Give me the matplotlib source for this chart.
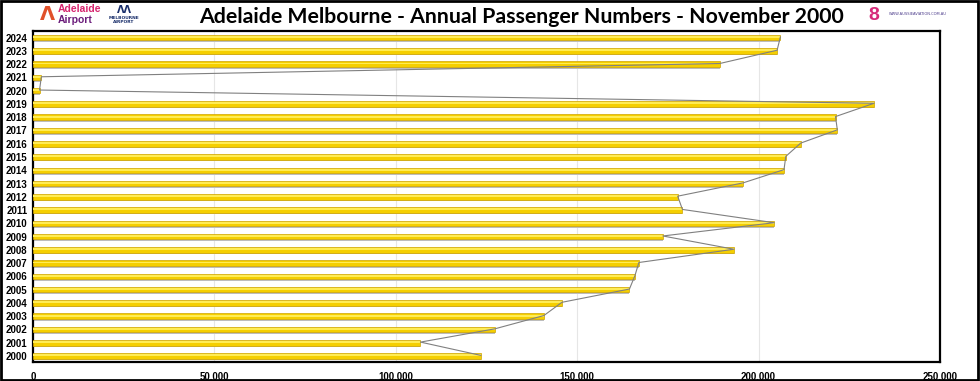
import matplotlib
matplotlib.use("Agg")
import matplotlib.pyplot as plt
from matplotlib.patches import Rectangle
from matplotlib.ticker import FuncFormatter, MultipleLocator

years = [2000, 2001, 2002, 2003, 2004, 2005, 2006, 2007, 2008, 2009, 2010, 2011,
         2012, 2013, 2014, 2015, 2016, 2017, 2018, 2019, 2020, 2021, 2022, 2023, 2024]
passengers = [123400, 106800, 127300, 140800, 145800, 164400, 165900, 167000, 193200,
              173600, 204300, 179000, 177700, 195700, 207000, 207500, 211600, 221700,
              221200, 231800, 1800, 2300, 189300, 205100, 206000]
title = "Adelaide Melbourne - Annual Passenger Numbers - November 2000"

fig = plt.figure(figsize=(9.8, 3.81), dpi=100)
ax = fig.add_axes([33/980, 19/381, 907/980, 331/381])

pos = list(range(len(years)))
h = 0.42
# shadow
ax.barh([p - 0.12 for p in pos], passengers, height=h, color="#bdbdbd", zorder=2)
ax.barh(pos, passengers, height=h, color="#F5CF00", edgecolor="#CFA400", linewidth=0.5, zorder=3)
ax.barh([p + 0.05 for p in pos], passengers, height=h*0.35, color="#FFEC55", linewidth=0, zorder=4)
ax.plot(passengers, [p + 0.05 for p in pos], color="#808080", linewidth=0.8, zorder=5)

ax.set_xlim(0, 250000)
ax.set_ylim(-0.45, 24.5)
ax.set_yticks(pos)
ax.set_yticklabels([str(y) for y in years])
ax.xaxis.set_major_locator(MultipleLocator(50000))
ax.xaxis.set_major_formatter(FuncFormatter(lambda v, p: f"{int(v):,}"))
ax.grid(axis="x", color="#e6e6e6", linewidth=0.8, zorder=0)
ax.set_axisbelow(True)
for lab in ax.get_xticklabels() + ax.get_yticklabels():
    lab.set_fontfamily("Liberation Sans")
    lab.set_fontweight("bold")
    lab.set_fontsize(7)
ax.tick_params(axis="both", length=0, pad=4)
ax.tick_params(axis="x", pad=7)
for s in ax.spines.values():
    s.set_linewidth(1.6)
    s.set_color("black")

fig.text(521/980, 1 - 17/381, title, ha="center", va="center", fontsize=15.3,
         fontweight="bold", family="Lato")
# logos as text
fig.text(58/980, 1 - 9/381, "Adelaide", color="#d6246e", fontsize=7.5, family="Liberation Sans",
         fontweight="bold", va="center", ha="left")
fig.text(58/980, 1 - 20/381, "Airport", color="#6a1b7a", fontsize=7.5, family="Liberation Sans",
         fontweight="bold", va="center", ha="left")
fig.text(47/980, 1 - 15/381, "\u039b", color="#e0502a", fontsize=14, fontweight="bold",
         va="center", ha="center")
fig.text(124/980, 1 - 10/381, "\u039b\u039b", color="#1a2f6b", fontsize=7, fontweight="bold",
         va="center", ha="center")
fig.text(124/980, 1 - 20/381, "MELBOURNE\nAIRPORT", color="#1a2f6b", fontsize=3.2,
         fontweight="bold", va="center", ha="center", linespacing=1.0)
fig.text(874/980, 1 - 16/381, "8", color="#d62a7a", fontsize=14, fontweight="bold",
         va="center", ha="center", family="Liberation Sans")
fig.text(889/980, 1 - 14/381, "WWW.AUSSIEAVIATION.COM.AU", color="#4a3a8a", fontsize=2.6,
         va="center", ha="left")

fig.patches.append(Rectangle((0.001, 0.002), 0.997, 0.995, transform=fig.transFigure,
                             fill=False, edgecolor="black", linewidth=2))
fig.savefig("out.png", dpi=100)
